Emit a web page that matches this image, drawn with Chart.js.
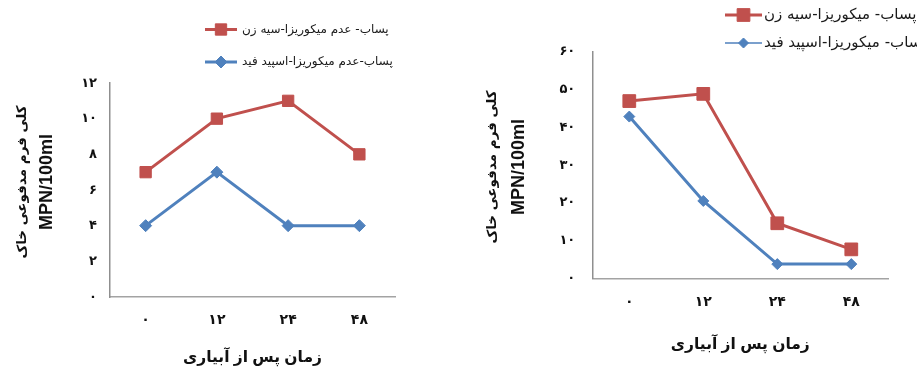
<!DOCTYPE html>
<html><head><meta charset="utf-8">
<script src="https://cdn.jsdelivr.net/npm/chart.js@4/dist/chart.umd.min.js"></script>
<style>
html,body{margin:0;padding:0;background:#fff;overflow:hidden;width:917px;height:369px}
.box{position:absolute;top:0;height:369px}
#b1{left:0;width:458px}
#b2{left:458px;width:459px}
</style></head><body>
<div class="box" id="b1"><canvas id="c1"></canvas></div>
<div class="box" id="b2"><canvas id="c2"></canvas></div>
<script>
// ---- data ----
const categories = ['۰', '۱۲', '۲۴', '۴۸'];
const leftRedLabel = 'پساب- عدم میکوریزا-سیه زن';
const leftBlueLabel = 'پساب-عدم میکوریزا-اسپید فید';
const leftRed = [7, 10, 11, 8];
const leftBlue = [4, 7, 4, 4];
const leftYTicks = ['۰', '۲', '۴', '۶', '۸', '۱۰', '۱۲'];
const rightRedLabel = 'پساب- میکوریزا-سیه زن';
const rightBlueLabel = 'پساب- میکوریزا-اسپید فید';
const rightRed = [46.9, 48.8, 14.6, 7.7];
const rightBlue = [42.8, 20.5, 3.8, 3.8];
const rightYTicks = ['۰', '۱۰', '۲۰', '۳۰', '۴۰', '۵۰', '۶۰'];
const yTitle = ['کلی فرم مدفوعی خاک', 'MPN/100ml'];
const xTitle = 'زمان پس از آبیاری';

const RED = '#C0504D';
const BLUE = '#4F81BD';
const FONT = '"Liberation Sans", "DejaVu Sans", sans-serif';

function marker(ctx, style, r, x, y) {
  ctx.beginPath();
  if (style === 'rect') {
    const s = Math.SQRT1_2 * r;
    ctx.rect(x - s, y - s, 2 * s, 2 * s);
  } else {
    ctx.moveTo(x, y - r); ctx.lineTo(x + r, y); ctx.lineTo(x, y + r); ctx.lineTo(x - r, y); ctx.closePath();
  }
  ctx.fill(); ctx.stroke();
}

// legend drawn as line + marker + label, read from the datasets
const lineLegend = {
  id: 'lineLegend',
  afterDraw(chart, args, o) {
    const ctx = chart.ctx;
    chart.data.datasets.forEach((ds, i) => {
      const y = o.ys[i];
      ctx.save();
      ctx.strokeStyle = ds.borderColor;
      ctx.lineWidth = o.lineWidths[i];
      ctx.beginPath(); ctx.moveTo(o.x0, y); ctx.lineTo(o.x1, y); ctx.stroke();
      ctx.fillStyle = ds.pointBackgroundColor;
      ctx.strokeStyle = ds.pointBorderColor;
      ctx.lineWidth = 1;
      marker(ctx, ds.pointStyle, o.radii[i], (o.x0 + o.x1) / 2, y);
      ctx.fillStyle = '#1a1a1a';
      ctx.font = o.font;
      ctx.textBaseline = 'middle';
      ctx.textAlign = 'left';
      ctx.fillText(ds.label, o.textX, y);
      ctx.restore();
    });
  }
};

// two-line rotated y-axis title with a separate font per line
const yAxisTitle = {
  id: 'yAxisTitle',
  afterDraw(chart, args, o) {
    const ctx = chart.ctx;
    const yc = o.yc;
    o.lines.forEach((t, i) => {
      ctx.save();
      ctx.translate(o.xs[i], yc);
      ctx.rotate(-Math.PI / 2);
      ctx.textAlign = 'center';
      ctx.textBaseline = 'middle';
      ctx.fillStyle = '#111';
      ctx.font = o.fonts[i];
      ctx.fillText(t, 0, 0);
      ctx.restore();
    });
  }
};

function makeChart(id, cfg) {
  return new Chart(document.getElementById(id), {
    type: 'line',
    data: {
      labels: categories,
      datasets: [
        { label: cfg.redLabel, data: cfg.red, borderColor: RED, backgroundColor: RED,
          pointBackgroundColor: RED, pointBorderColor: RED, pointStyle: 'rect',
          pointRadius: cfg.redR, pointBorderWidth: 1, borderWidth: 3, tension: 0 },
        { label: cfg.blueLabel, data: cfg.blue, borderColor: BLUE, backgroundColor: BLUE,
          pointBackgroundColor: BLUE, pointBorderColor: BLUE, pointStyle: 'rectRot',
          pointRadius: cfg.blueR, pointBorderWidth: 1, borderWidth: 3, tension: 0 }
      ]
    },
    options: {
      responsive: true, maintainAspectRatio: false, animation: false,
      layout: { padding: { top: cfg.top, right: cfg.right, left: 0, bottom: 0 } },
      plugins: {
        legend: { display: false }, tooltip: { enabled: false },
        lineLegend: cfg.legend,
        yAxisTitle: { lines: yTitle, xs: cfg.yTitleXs, yc: cfg.yTitleYc,
                      fonts: ['bold 13.5px "DejaVu Sans", sans-serif', 'bold 18px "Liberation Sans", sans-serif'] }
      },
      scales: {
        x: {
          type: 'category', offset: true,
          grid: { display: false, drawTicks: false },
          border: { display: true, color: '#a3a3a3', width: 1.5 },
          ticks: { color: '#111', padding: cfg.xPad, font: { family: FONT, size: 14, weight: 'bold' } },
          title: { display: true, text: xTitle, color: '#111', padding: { top: 0, bottom: cfg.xTitlePad },
                   font: { family: FONT, size: 15.5, weight: 'bold' } },
          afterFit(s) { s.height = cfg.xH; }
        },
        y: {
          min: 0, max: cfg.max,
          grid: { display: false, drawTicks: false },
          border: { display: true, color: '#8f8f8f', width: 1.5 },
          ticks: { stepSize: cfg.step, color: '#111', padding: cfg.yPad,
                   font: { family: FONT, size: 13, weight: 'bold' },
                   callback: (v, i) => cfg.yTicks[i] },
          title: { display: false },
          afterFit(s) { s.width = cfg.yW; }
        }
      }
    },
    plugins: [lineLegend, yAxisTitle]
  });
}

makeChart('c1', {
  red: leftRed, blue: leftBlue, redLabel: leftRedLabel, blueLabel: leftBlueLabel,
  redR: 8, blueR: 6, max: 12, step: 2, yTicks: leftYTicks,
  top: 83, right: 63, yW: 110, xH: 72,
  xPad: 14.5, xTitlePad: 1.7, yPad: 13,
  yTitleXs: [22, 47], yTitleYc: 182,
  legend: { x0: 205, x1: 237, ys: [29.5, 62], lineWidths: [3, 3], radii: [8, 6], textX: 242,
            font: '12px "DejaVu Sans", sans-serif' }
});

makeChart('c2', {
  red: rightRed, blue: rightBlue, redLabel: rightRedLabel, blueLabel: rightBlueLabel,
  redR: 9, blueR: 5.5, max: 60, step: 10, yTicks: rightYTicks,
  top: 51.5, right: 28.7, yW: 134.3, xH: 90.5,
  xPad: 15, xTitlePad: 14.7, yPad: 17,
  yTitleXs: [34, 61], yTitleYc: 167,
  legend: { x0: 267, x1: 304, ys: [15, 43], lineWidths: [3, 1.5], radii: [9, 5], textX: 306,
            font: '15px "DejaVu Sans", sans-serif' }
});
</script>
</body></html>
